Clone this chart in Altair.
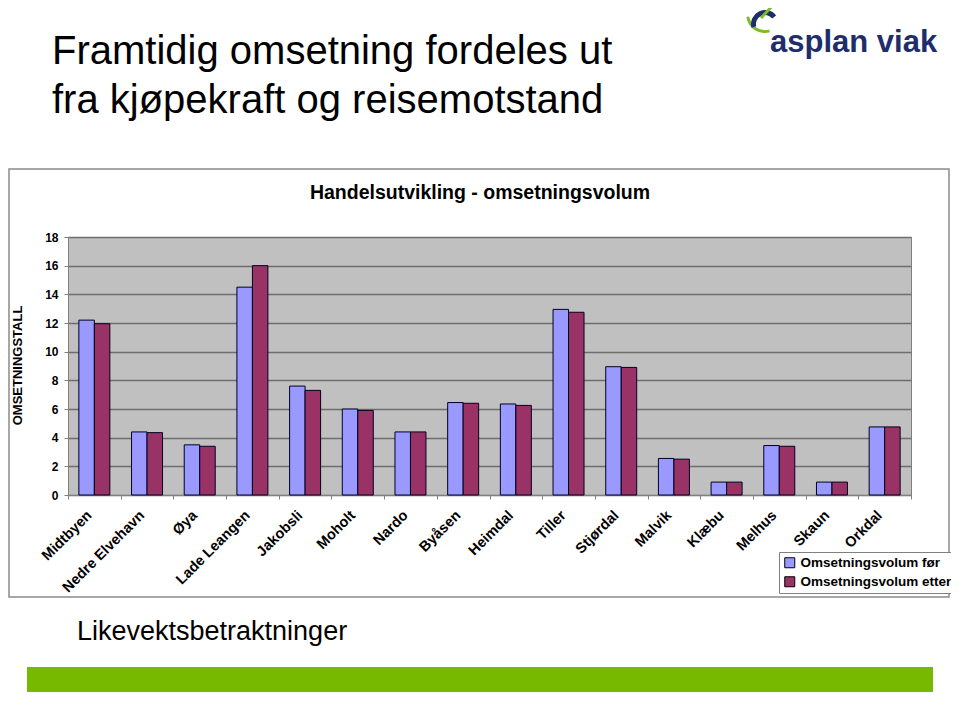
import altair as alt
import pandas as pd

# ---- data ----
steder = ["Midtbyen", "Nedre Elvehavn", "Øya", "Lade Leangen", "Jakobsli", "Moholt",
          "Nardo", "Byåsen", "Heimdal", "Tiller", "Stjørdal", "Malvik", "Klæbu",
          "Melhus", "Skaun", "Orkdal"]
serier = ["Omsetningsvolum før", "Omsetningsvolum etter"]
volum_for = [12.2, 4.4, 3.5, 14.5, 7.6, 6.0, 4.4, 6.45, 6.35, 12.95, 8.95, 2.55, 0.9, 3.45, 0.9, 4.75]
volum_etter = [11.95, 4.35, 3.4, 16.0, 7.3, 5.9, 4.4, 6.4, 6.25, 12.75, 8.9, 2.5, 0.9, 3.4, 0.9, 4.75]
y_ticks = [0, 2, 4, 6, 8, 10, 12, 14, 16, 18]

slide_title = ["Framtidig omsetning fordeles ut", "fra kjøpekraft og reisemotstand"]
chart_title = "Handelsutvikling - omsetningsvolum"
y_title = "OMSETNINGSTALL"
subtitle = "Likevektsbetraktninger"
logo_text = "asplan viak"

rows = []
for i, s in enumerate(steder):
    rows.append({"Sted": s, "Serie": serier[0], "Verdi": volum_for[i]})
    rows.append({"Sted": s, "Serie": serier[1], "Verdi": volum_etter[i]})
df = pd.DataFrame(rows)

FONT = "Liberation Sans"
W, H = 843, 258
NAVY = "#1E2D6B"
LGREEN = "#7DBB2A"

bars = alt.Chart(df).mark_bar(stroke="#000022", strokeWidth=1).encode(
    x=alt.X("Sted:N", sort=steder, title=None,
            scale=alt.Scale(paddingInner=0, paddingOuter=0),
            axis=alt.Axis(labelAngle=-45, labelFont=FONT, labelFontSize=14.5,
                          labelFontWeight="bold", labelColor="black", labelPadding=9,
                          labelOffset=-10,
                          tickBand="extent", tickSize=4, tickColor="#808080",
                          domainColor="#808080", grid=False, labelOverlap=False)),
    xOffset=alt.XOffset("Serie:N", sort=serier,
                        scale=alt.Scale(paddingOuter=0.7, paddingInner=0)),
    y=alt.Y("Verdi:Q", scale=alt.Scale(domain=[0, 18], nice=False),
            title=y_title,
            axis=alt.Axis(values=y_ticks, labelFont=FONT, labelFontSize=12,
                          labelFontWeight="bold", labelColor="black", labelPadding=6,
                          tickSize=4, tickColor="#808080", domain=False,
                          grid=True, gridColor="#6e6e6e", gridWidth=1.5,
                          titleFont=FONT, titleFontSize=13, titleFontWeight="bold",
                          titleColor="black", titleX=-51, titleY=128,
                          titleBaseline="middle", titleAlign="center", titleAngle=270)),
    color=alt.Color("Serie:N", sort=serier,
                    scale=alt.Scale(domain=serier, range=["#9999FF", "#993366"]),
                    legend=alt.Legend(title=None, orient="none", legendX=711, legendY=315,
                                      labelFont=FONT, labelFontSize=13.5,
                                      labelFontWeight="bold", labelColor="black",
                                      symbolType="square", symbolSize=100,
                                      symbolStrokeColor="black", symbolStrokeWidth=1,
                                      strokeColor="#808080", fillColor="white",
                                      padding=4, rowPadding=4, labelOffset=4)),
)

def text_layer(txt, x, y, size, weight="normal", color="black", align="left", baseline="alphabetic"):
    return alt.Chart(pd.DataFrame({"t": [txt]})).mark_text(
        font=FONT, fontSize=size, fontWeight=weight, color=color,
        align=align, baseline=baseline
    ).encode(x=alt.value(x), y=alt.value(y), text="t:N")

box = alt.Chart(pd.DataFrame({"a": [0]})).mark_rect(
    fillOpacity=0, stroke="#8a8a8a", strokeWidth=1.5
).encode(x=alt.value(-59), x2=alt.value(881), y=alt.value(-68), y2=alt.value(360))

green = alt.Chart(pd.DataFrame({"a": [0]})).mark_rect(
    color="#77B800"
).encode(x=alt.value(27 - 68), x2=alt.value(933 - 68), y=alt.value(667 - 237), y2=alt.value(460))

logo_navy = alt.Chart(pd.DataFrame({"a": [0]})).mark_arc(
    radius=14, radius2=9, theta=4.45, theta2=7.2, color=NAVY
).encode(x=alt.value(765 - 68), y=alt.value(24 - 237))
logo_green = alt.Chart(pd.DataFrame({"a": [0]})).mark_arc(
    radius=19, radius2=16, theta=2.88, theta2=4.55, color=LGREEN
).encode(x=alt.value(765 - 68), y=alt.value(14 - 237))
logo_green_line = alt.Chart(pd.DataFrame({"a": [0]})).mark_rule(
    color=LGREEN, strokeWidth=3
).encode(x=alt.value(761 - 68), y=alt.value(18 - 237), x2=alt.value(775 - 68), y2=alt.value(3 - 237))

layers = [
    box, green,
    text_layer(slide_title[0], -16, -173, 40),
    text_layer(slide_title[1], -16, -124, 40),
    text_layer(logo_text, 702, -185, 31, weight="bold", color=NAVY),
    logo_green, logo_navy, logo_green_line,
    text_layer(chart_title, 412, -38, 19.5, weight="bold", align="center"),
    text_layer(subtitle, 9, 403, 27),
    bars,
]

chart = alt.layer(*layers).properties(
    width=W, height=H,
    autosize=alt.AutoSizeParams(type="none"),
    padding={"left": 60, "top": 229, "right": 40, "bottom": 197},
    background="white",
).configure_view(fill="#C0C0C0", stroke="#808080", strokeWidth=1)

chart.save("out.html", embed_options={"renderer": "svg", "actions": False})
